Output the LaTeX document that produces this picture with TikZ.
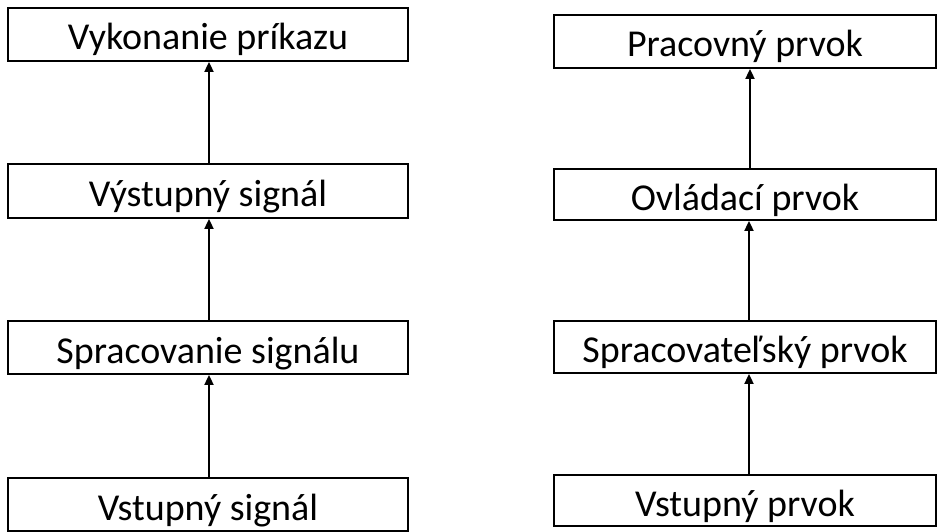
\documentclass[tikz,border=0pt]{standalone}
\usepackage{fontspec}
\setmainfont{Carlito}
\usetikzlibrary{arrows.meta}
\begin{document}
\begin{tikzpicture}[x=1pt,y=-1pt,
  box/.style={draw=black, line width=1.8pt, rectangle, inner sep=0pt,
    text height=36pt, text depth=5pt, font=\fontsize{38}{44}\selectfont},
  arr/.style={line width=1.8pt, -{Triangle[width=9pt,length=10pt]}}]
\useasboundingbox (0,0) rectangle (937,532);
\node[box, minimum width=400pt, minimum height=53pt] (l1) at (208,34.5) {Vykonanie príkazu};
\node[box, minimum width=400pt, minimum height=54pt] (l2) at (208,191) {Výstupný signál};
\node[box, minimum width=400pt, minimum height=53pt] (l3) at (208,347.5) {Spracovanie signálu};
\node[box, minimum width=400pt, minimum height=53pt] (l4) at (208,504.5) {Vstupný signál};
\node[box, minimum width=382pt, minimum height=53pt] (r1) at (745,41.5) {Pracovný prvok};
\node[box, minimum width=382pt, minimum height=51pt] (r2) at (745,194.5) {Ovládací prvok};
\node[box, minimum width=382pt, minimum height=52pt] (r3) at (745,347) {Spracovateľský prvok};
\node[box, minimum width=382pt, minimum height=51pt] (r4) at (745,500.5) {Vstupný prvok};
\draw[arr] ([xshift=1pt]l2.north) -- ([xshift=1pt]l1.south);
\draw[arr] ([xshift=1pt]l3.north) -- ([xshift=1pt]l2.south);
\draw[arr] ([xshift=1pt]l4.north) -- ([xshift=1pt]l3.south);
\draw[arr] ([xshift=5pt]r2.north) -- ([xshift=5pt]r1.south);
\draw[arr] ([xshift=4pt]r3.north) -- ([xshift=4pt]r2.south);
\draw[arr] ([xshift=4pt]r4.north) -- ([xshift=4pt]r3.south);
\end{tikzpicture}
\end{document}
